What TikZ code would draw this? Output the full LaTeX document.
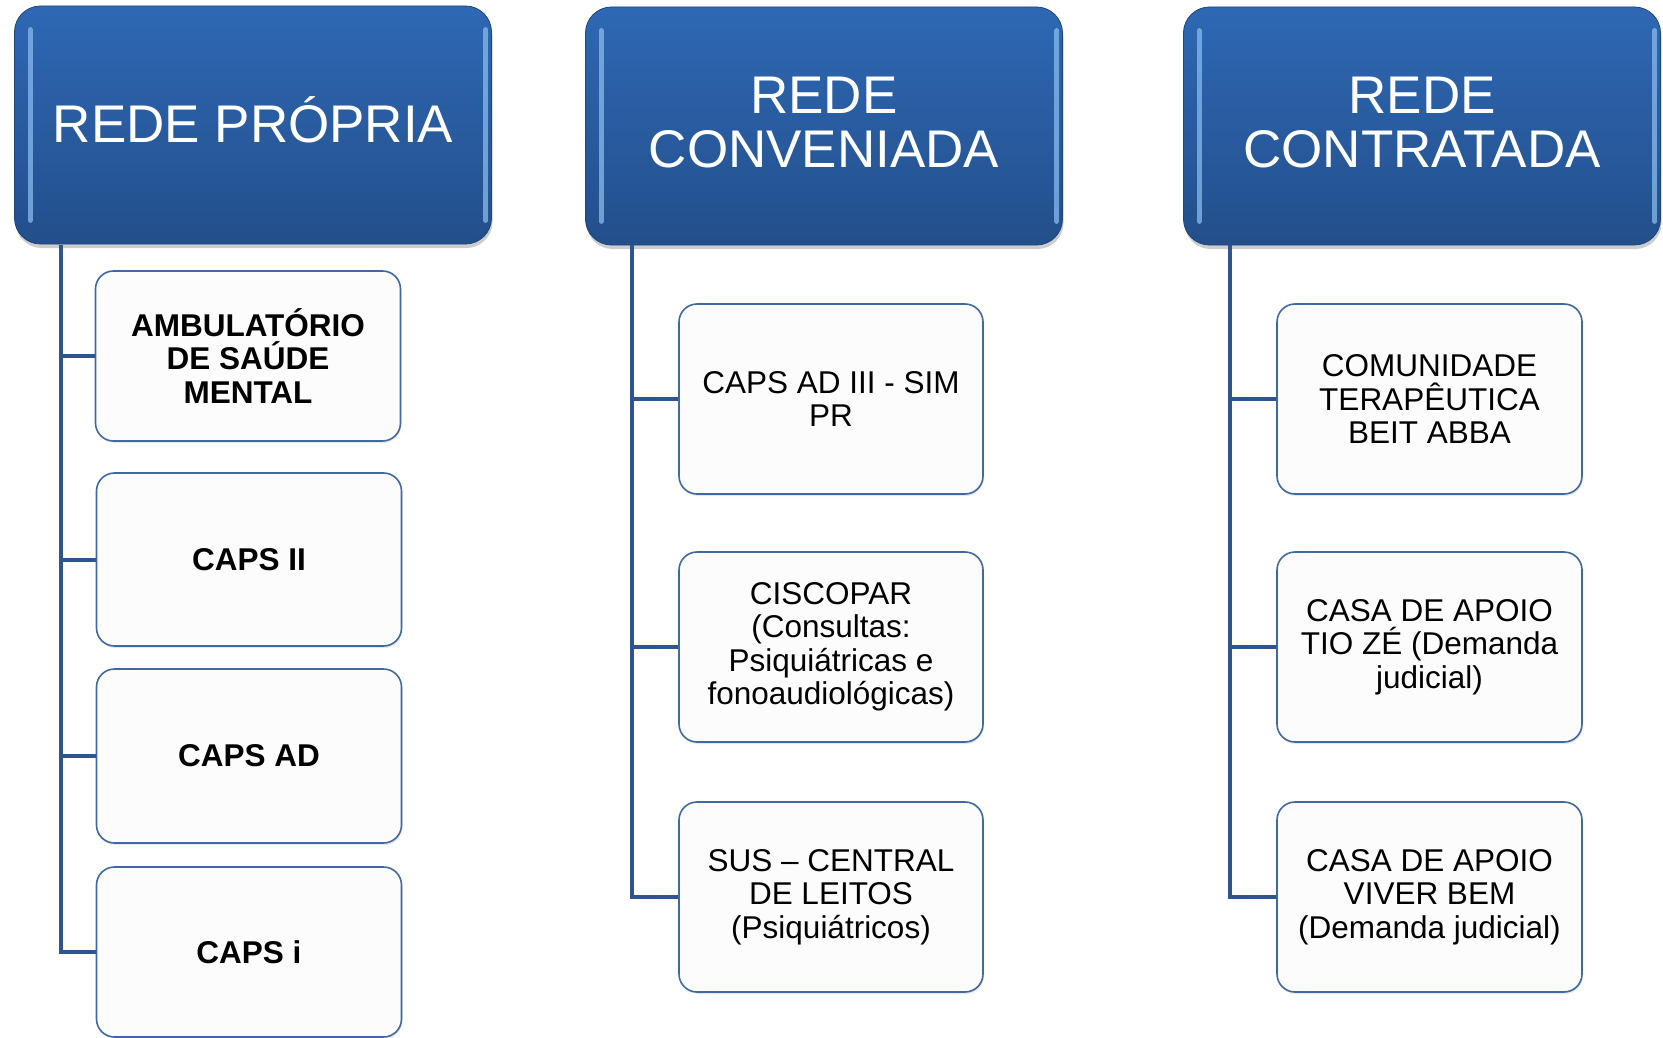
\documentclass[tikz,border=0pt]{standalone}
\usepackage{fontspec}
\setmainfont{Liberation Sans}
\usetikzlibrary{shadows}
\definecolor{hdtop}{HTML}{2E68B4}
\definecolor{hdbot}{HTML}{234F8B}
\definecolor{hdedge}{HTML}{1F4479}
\definecolor{connc}{HTML}{2F5591}
\definecolor{bxline}{HTML}{4069A2}
\definecolor{bxfill}{HTML}{FCFCFC}
\definecolor{glossc}{HTML}{8FC0F2}
\begin{document}
\begin{tikzpicture}[x=1pt,y=-1pt,
  header/.style={rounded corners=26pt, top color=hdtop, bottom color=hdbot,
    draw=hdedge, line width=0.8pt, text=white, align=center,
    font=\fontsize{53}{54}\selectfont, minimum width=477pt, minimum height=238pt,
    inner sep=0pt,
    drop shadow={shadow xshift=1pt, shadow yshift=-4pt, opacity=0.28, fill=black!70}},
  htext/.style={text=white, align=center, font=\fontsize{53}{54}\selectfont, inner sep=0pt},
  item/.style={rounded corners=18pt, fill=bxfill, draw=bxline, line width=1.6pt,
    align=center, font=\fontsize{31.5}{33.5}\selectfont, minimum width=305pt,
    inner sep=0pt,
    drop shadow={shadow xshift=1pt, shadow yshift=-2pt, opacity=0.15, fill=black!60}},
  bolditem/.style={item, font=\fontsize{31.5}{33.5}\selectfont\bfseries},
  conn/.style={draw=connc, line width=4pt},
  glossline/.style={draw=glossc, line width=5pt, line cap=round, opacity=0.7}
]
\useasboundingbox (0,0) rectangle (1663,1038);

% headers (boxes, then their texts)
\node[header] (h1) at (253,125) {};
\node[header] (h2) at (824,126) {};
\node[header] (h3) at (1422,126) {};
\node[htext] (t1) at (253,120) {REDE PRÓPRIA};
\node[htext] (t2) at (824,123) {REDE\\CONVENIADA};
\node[htext] (t3) at (1422,123) {REDE\\CONTRATADA};

\foreach \h in {h1,h2,h3}{
  \draw[glossline] ([xshift=16pt,yshift=-24pt]\h.north west) -- ([xshift=16pt,yshift=24pt]\h.south west);
  \draw[glossline] ([xshift=-6pt,yshift=-24pt]\h.north east) -- ([xshift=-6pt,yshift=24pt]\h.south east);
}

% spine start points
\coordinate (s1) at (61,245);
\coordinate (s2) at (632,245);
\coordinate (s3) at (1230,245);

% column 1
\node[bolditem, minimum height=170pt] (b11) at (248,356) {AMBULATÓRIO\\DE SAÚDE\\MENTAL};
\node[bolditem, minimum height=173pt] (b12) at (249,559.5) {CAPS II};
\node[bolditem, minimum height=174pt] (b13) at (249,756) {CAPS AD};
\node[bolditem, minimum height=170pt] (b14) at (249,952) {CAPS i};

% column 2
\node[item, minimum width=304pt, minimum height=190pt] (b21) at (831,399) {CAPS AD III - SIM\\PR};
\node[item, minimum width=304pt, minimum height=190pt] (b22) at (831,647) {CISCOPAR\\(Consultas:\\Psiquiátricas e\\fonoaudiológicas)};
\node[item, minimum width=304pt, minimum height=190pt] (b23) at (831,897) {SUS – CENTRAL\\DE LEITOS\\(Psiquiátricos)};

% column 3
\node[item, minimum height=190pt] (b31) at (1429.5,399) {COMUNIDADE\\TERAPÊUTICA\\BEIT ABBA};
\node[item, minimum height=190pt] (b32) at (1429.5,647) {CASA DE APOIO\\TIO ZÉ (Demanda\\judicial)};
\node[item, minimum height=190pt] (b33) at (1429.5,897) {CASA DE APOIO\\VIVER BEM\\(Demanda judicial)};

% connectors
\draw[conn] (s1) |- (b14.west);
\draw[conn] (s1 |- b11.west) -- (b11.west);
\draw[conn] (s1 |- b12.west) -- (b12.west);
\draw[conn] (s1 |- b13.west) -- (b13.west);

\draw[conn] (s2) |- (b23.west);
\draw[conn] (s2 |- b21.west) -- (b21.west);
\draw[conn] (s2 |- b22.west) -- (b22.west);

\draw[conn] (s3) |- (b33.west);
\draw[conn] (s3 |- b31.west) -- (b31.west);
\draw[conn] (s3 |- b32.west) -- (b32.west);
\end{tikzpicture}
\end{document}
